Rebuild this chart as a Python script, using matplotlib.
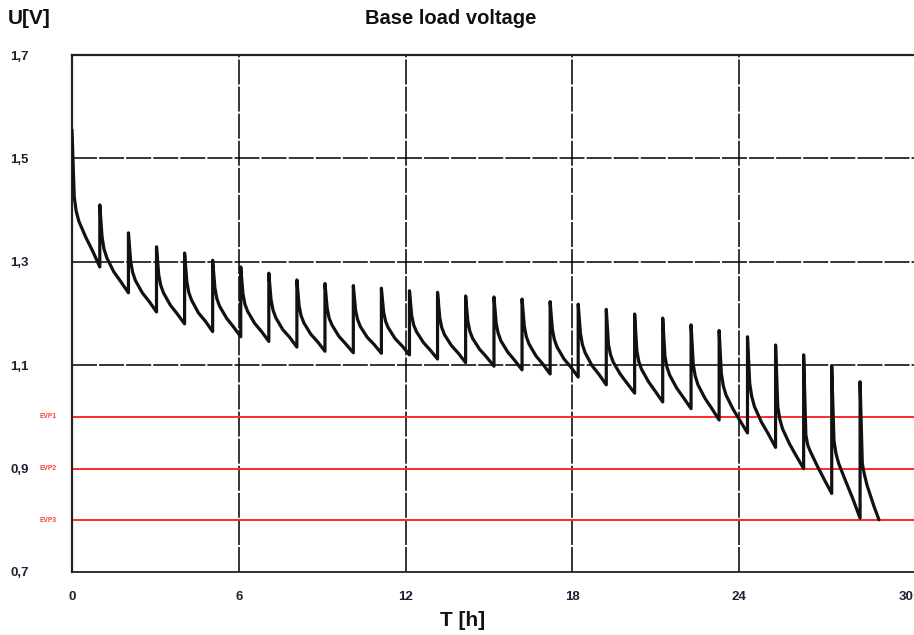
import numpy as np
import matplotlib
matplotlib.use("Agg")
import matplotlib.pyplot as plt

# ---------------- data ----------------
# start time of every load cycle (h): 0 = test start, then the recovery spikes
t_start = [0.0, 1.0, 2.03, 3.04, 4.05, 5.06, 6.07, 7.08, 8.09, 9.10, 10.12,
           11.13, 12.14, 13.15, 14.16, 15.18, 16.19, 17.20, 18.21, 19.22,
           20.24, 21.25, 22.27, 23.28, 24.30, 25.31, 26.32, 27.33, 28.35]
t_final = 29.03
# offsets (h) after each spike where the voltage was read
sample_offsets = [0.08, 0.15, 0.25, 0.50, 0.75]
# voltage at the spike, then at the offsets above, then right before the next spike
v_peak = [1.555, 1.410, 1.356, 1.329, 1.317, 1.303, 1.290, 1.278, 1.265, 1.258,
          1.254, 1.249, 1.244, 1.241, 1.234, 1.232, 1.228, 1.223, 1.218, 1.208,
          1.199, 1.191, 1.178, 1.167, 1.155, 1.139, 1.120, 1.098, 1.068]
v_s08 = [1.426, 1.349, 1.301, 1.275, 1.262, 1.250, 1.238, 1.227, 1.215, 1.210,
         1.207, 1.203, 1.196, 1.192, 1.185, 1.181, 1.176, 1.170, 1.162, 1.140,
         1.128, 1.118, 1.101, 1.084, 1.065, 1.020, 0.965, 0.955, 0.910]
v_s15 = [1.398, 1.325, 1.280, 1.255, 1.241, 1.229, 1.218, 1.207, 1.196, 1.191,
         1.189, 1.185, 1.178, 1.173, 1.166, 1.162, 1.156, 1.150, 1.140, 1.121,
         1.107, 1.097, 1.079, 1.060, 1.040, 0.996, 0.945, 0.930, 0.890]
v_s25 = [1.378, 1.308, 1.264, 1.240, 1.226, 1.214, 1.204, 1.192, 1.182, 1.178,
         1.175, 1.172, 1.165, 1.159, 1.152, 1.147, 1.141, 1.135, 1.124, 1.106,
         1.092, 1.081, 1.062, 1.042, 1.020, 0.977, 0.932, 0.910, 0.868]
v_s50 = [1.347, 1.281, 1.240, 1.216, 1.201, 1.191, 1.181, 1.169, 1.160, 1.156,
         1.154, 1.151, 1.144, 1.138, 1.131, 1.125, 1.118, 1.112, 1.099, 1.083,
         1.068, 1.056, 1.036, 1.015, 0.990, 0.948, 0.904, 0.876, 0.827]
v_s75 = [1.320, 1.262, 1.223, 1.199, 1.185, 1.174, 1.165, 1.154, 1.145, 1.141,
         1.140, 1.137, 1.129, 1.123, 1.116, 1.109, 1.102, 1.096, 1.082, 1.065,
         1.049, 1.037, 1.016, 0.993, 0.967, 0.924, 0.878, 0.843, np.nan]
v_end = [1.290, 1.240, 1.203, 1.180, 1.165, 1.155, 1.146, 1.135, 1.127, 1.124,
         1.123, 1.120, 1.112, 1.105, 1.098, 1.091, 1.083, 1.077, 1.062, 1.046,
         1.029, 1.016, 0.994, 0.969, 0.941, 0.900, 0.852, 0.804, 0.801]

evp_levels = [1.0, 0.9, 0.8]
evp_labels = ["EVP1", "EVP2", "EVP3"]

x_ticks = [0, 6, 12, 18, 24, 30]
x_ticklabels = ["0", "6", "12", "18", "24", "30"]
y_ticks = [0.7, 0.9, 1.1, 1.3, 1.5, 1.7]
y_ticklabels = ["0,7", "0,9", "1,1", "1,3", "1,5", "1,7"]
h_grid = [1.1, 1.3, 1.5]
v_grid = [6, 12, 18, 24]

title = "Base load voltage"
x_label = "T [h]"
y_label = "U[V]"

# ---------------- build the trace ----------------
t_pts, v_pts = [], []
t_ends = t_start[1:] + [t_final]
sample_series = (v_s08, v_s15, v_s25, v_s50, v_s75)
for i, t0 in enumerate(t_start):
    t_pts.append(t0)
    v_pts.append(v_peak[i])
    for off, arr in zip(sample_offsets, sample_series):
        if np.isfinite(arr[i]) and t0 + off < t_ends[i]:
            t_pts.append(t0 + off)
            v_pts.append(arr[i])
    t_pts.append(t_ends[i])
    v_pts.append(v_end[i])

# ---------------- figure ----------------
plt.rcParams['font.family'] = ['Liberation Sans', 'DejaVu Sans']
plt.rcParams['lines.scale_dashes'] = False

fig = plt.figure(figsize=(9.14, 6.35), dpi=100)
ax = fig.add_axes([72 / 914, 63 / 635, 842 / 914, 517 / 635])
ax.set_xlim(0, 30.29)
ax.set_ylim(0.7, 1.7)

dash = (0, (18, 1.5))
for y in h_grid:
    ax.axhline(y, color='black', lw=1.1, linestyle=dash, zorder=1)
for x in v_grid:
    ax.axvline(x, color='black', lw=1.1, linestyle=dash, zorder=1)

for lvl, lab in zip(evp_levels, evp_labels):
    ax.axhline(lvl, color='#ff2a2a', lw=1.4, zorder=2)
    ax.text(-0.55, lvl, lab, color='#ff3a3a', fontsize=4.8, fontweight='bold',
            ha='right', va='center', clip_on=False)

ax.plot(t_pts, v_pts, color='#111111', lw=2.3, solid_joinstyle='round',
        solid_capstyle='round', zorder=5)

ax.set_xticks(x_ticks)
ax.set_xticklabels(x_ticklabels)
ax.set_yticks(y_ticks)
ax.set_yticklabels(y_ticklabels)
ax.tick_params(axis='both', length=0, labelsize=9.5, labelcolor='#1c2233')
ax.tick_params(axis='x', pad=14)
ax.tick_params(axis='y', pad=31)
for lbl in ax.get_xticklabels() + ax.get_yticklabels():
    lbl.set_fontweight('bold')

for side in ['left', 'top']:
    ax.spines[side].set_linewidth(1.6)
    ax.spines[side].set_color('#222222')
ax.spines['bottom'].set_linewidth(1.3)
ax.spines['bottom'].set_color('#222222')
ax.spines['right'].set_visible(False)

fig.text(451 / 914, 1 - 19 / 635, title, fontsize=14.5, fontweight='bold',
         ha='center', va='center', color='#111111')
fig.text(8 / 914, 1 - 19 / 635, y_label, fontsize=15, fontweight='bold',
         ha='left', va='center', color='#111111')
fig.text(463 / 914, 1 - 621 / 635, x_label, fontsize=15, fontweight='bold',
         ha='center', va='center', color='#111111')

fig.savefig('out.png', dpi=100, facecolor='white')
